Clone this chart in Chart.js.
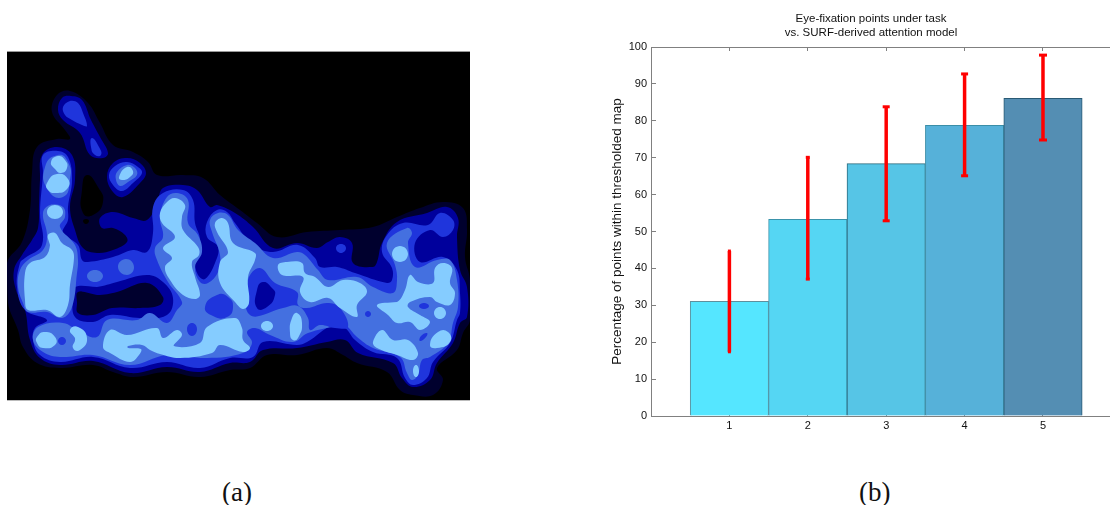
<!DOCTYPE html>
<html>
<head>
<meta charset="utf-8">
<title>Eye-fixation points</title>
<script src="https://cdn.jsdelivr.net/npm/chart.js@4"></script>
<style>
  html, body { margin: 0; padding: 0; background: #fff; }
  #page { position: relative; width: 1110px; height: 505px; overflow: hidden; }
  #mapBox { position: absolute; left: 7px; top: 52px; width: 463px; height: 348px; background: #000; box-shadow: 0 -1px 0 #999, 0 1px 0 #bbb; }
  #barBox { position: absolute; left: 600px; top: 0; width: 542px; height: 450px; }
  .cap { position: absolute; top: 476px; font: 27px "Liberation Serif", serif; color: #111; line-height: 32px; }
</style>
</head>
<body>
<div id="page">
  <div id="mapBox"><canvas id="mapChart"></canvas></div>
  <div id="barBox"><canvas id="barChart"></canvas></div>
  <div class="cap" style="left:222px">(a)</div>
  <div class="cap" style="left:859px">(b)</div>
</div>
<script>
// --- panel (b) values
const categories = [1, 2, 3, 4, 5];
const percentInside = [31.1, 53.3, 68.4, 78.8, 86.1];
const errorLow = [17.4, 37.1, 52.9, 65.1, 74.8];
const errorHigh = [44.7, 70.1, 83.8, 92.7, 97.8];
const yTicks = [0, 10, 20, 30, 40, 50, 60, 70, 80, 90, 100];

// --- panel (a) contours (x, y in image pixels)
const outerGlow = [[70,91],[88,103],[100,123],[113,145],[133,152],[148,162],[157,175],[183,175],[203,178],[220,195],[240,210],[257,223],[277,237],[307,232],[340,230],[373,227],[397,217],[420,208],[443,202],[463,208],[467,230],[465,257],[470,280],[470,320],[463,333],[457,350],[437,368],[443,380],[433,395],[413,395],[400,390],[387,372],[357,363],[343,355],[327,348],[297,355],[267,355],[250,368],[230,370],[200,377],[167,372],[133,377],[113,372],[93,365],[60,368],[37,363],[23,347],[18,330],[8,303],[7,263],[22,242],[30,210],[32,173],[37,147],[57,139],[70,139],[65,130],[52,112],[57,95]];
const blackGap = [[87,175],[98,187],[103,202],[93,215],[83,213],[82,190]];
const blackDot = [[86,219],[89,221],[86,224],[83,221]];

const navyTop = [[71,96],[82,100],[91,120],[100,137],[108,153],[103,158],[90,155],[80,133],[63,120],[58,110],[62,98]];
const navyThird = [[127,158],[140,163],[146,173],[140,183],[123,197],[113,192],[107,177],[113,163]];
const navyMain = [[57,147],[72,155],[75,180],[70,207],[75,230],[83,248],[97,253],[113,250],[127,242],[125,235],[113,228],[102,228],[100,218],[113,212],[133,218],[147,220],[157,203],[163,188],[183,185],[197,190],[210,207],[217,205],[235,213],[253,227],[273,248],[297,243],[317,248],[328,242],[340,237],[352,243],[353,263],[373,267],[377,262],[382,243],[397,222],[427,213],[447,207],[458,218],[457,237],[460,270],[467,287],[467,317],[460,323],[453,343],[437,363],[430,380],[413,387],[402,378],[393,363],[358,353],[345,340],[327,342],[297,348],[263,350],[250,362],[230,363],[200,372],[167,367],[130,373],[93,361],[60,365],[40,358],[30,340],[25,310],[16,290],[14,270],[22,255],[32,240],[38,228],[39,205],[40,180],[42,155]];

const blueTop = [[70,101],[78,103],[83,113],[87,126],[82,125],[72,120],[65,115],[63,107]];
const blueStrip = [[92,138],[99,147],[101,155],[95,155],[91,147]];
const blueThird = [[127,162],[138,167],[142,173],[133,183],[122,191],[113,185],[109,175],[115,166]];
const blueDot = [[341,244],[346,248],[341,253],[336,248]];
const blueMain = [[58,151],[68,157],[72,180],[68,207],[68,220],[63,233],[78,245],[82,260],[88,262],[113,257],[133,250],[147,252],[153,233],[153,207],[163,193],[183,190],[193,200],[195,223],[200,240],[195,260],[198,275],[205,279],[215,263],[218,247],[207,237],[207,222],[217,210],[227,212],[235,223],[253,245],[273,252],[298,245],[315,258],[320,267],[337,267],[355,273],[387,283],[392,280],[392,268],[382,252],[387,235],[403,223],[428,225],[440,213],[453,220],[453,230],[443,237],[430,230],[415,243],[420,262],[443,257],[457,270],[460,293],[460,313],[457,320],[450,343],[433,362],[427,378],[413,385],[405,378],[397,358],[373,352],[355,340],[345,328],[333,325],[307,342],[297,345],[263,342],[253,357],[230,358],[200,368],[167,362],[130,368],[93,357],[60,362],[40,355],[33,340],[35,328],[47,320],[25,310],[17,287],[20,263],[25,258],[42,245],[40,213],[43,173],[43,155]];

const navyRing = [[75,287],[97,287],[117,282],[147,275],[163,282],[173,298],[167,315],[140,318],[110,315],[93,322],[75,317],[73,297]];
const darkCore = [[78,292],[97,295],[117,292],[147,283],[163,297],[160,305],[140,308],[112,308],[93,315],[78,313],[77,303]];

const midThird = [[127,165],[135,168],[137,175],[128,182],[120,186],[116,180],[117,172]];
const midColumn = [[58,155],[68,162],[70,180],[63,197],[48,190],[45,167]];
const midLeft = [[50,205],[63,207],[65,217],[60,227],[75,245],[78,260],[77,273],[72,307],[62,318],[47,312],[28,312],[23,303],[18,287],[20,270],[28,260],[43,250],[47,235],[43,213]];
const midSpotA = [[87,276],[95,270],[103,276],[95,282]];
const midSpotB = [[118,267],[126,259],[134,267],[127,275]];
const midMain = [[33,340],[38,327],[63,323],[80,332],[97,337],[107,320],[137,320],[150,313],[167,323],[177,310],[182,302],[168,282],[157,260],[155,248],[163,237],[160,217],[167,197],[177,193],[188,200],[188,223],[198,235],[202,252],[195,267],[200,282],[208,283],[218,272],[220,255],[212,232],[210,220],[218,213],[228,215],[238,230],[255,243],[273,258],[297,252],[305,255],[318,270],[328,280],[357,277],[373,287],[393,293],[397,280],[395,265],[387,243],[407,228],[412,233],[408,243],[415,267],[437,260],[450,260],[457,280],[458,307],[453,323],[448,343],[430,357],[422,360],[418,375],[412,380],[407,373],[400,357],[373,348],[357,337],[345,325],[337,326],[308,333],[293,342],[270,335],[255,328],[247,332],[252,343],[243,353],[207,358],[167,355],[130,365],[93,355],[60,357],[43,352]];

const bluePool = [[250,315],[248,280],[260,268],[275,283],[297,292],[298,305],[307,308],[327,303],[340,308],[348,327],[335,328],[320,325],[310,330],[308,318],[298,306],[283,308]];
const blueOval = [[205,307],[217,295],[228,297],[233,307],[227,317],[213,316]];
const blueSpotA = [[192,323],[197,329],[192,336],[187,329]];
const blueSpotB = [[62,337],[66,341],[62,345],[58,341]];
const blueSpotC = [[424,303],[429,306],[424,309],[419,306]];
const blueSpotD = [[368,311],[371,314],[368,317],[365,314]];
const blueSpotE = [[427,333],[426,337],[420,341],[421,336]];
const navyPocket = [[263,282],[272,288],[275,295],[267,307],[257,308],[257,290]];

const lightA = [[58,156],[65,160],[67,168],[61,173],[55,169],[51,162]];
const lightB = [[47,183],[57,174],[68,179],[67,189],[56,193],[48,190]];
const lightC = [[47,212],[55,205],[63,212],[55,219]];
const lightThird = [[127,167],[133,171],[130,177],[122,180],[119,177]];
const lightLeft = [[48,235],[55,233],[62,243],[72,250],[74,258],[70,285],[68,305],[60,317],[47,310],[28,310],[25,300],[25,273],[30,263],[45,257],[50,245]];
const lightF = [[37,337],[45,332],[55,337],[55,345],[43,348],[37,343]];
const lightG = [[70,330],[78,327],[87,338],[80,350],[73,348],[75,338]];
const lightBand = [[103,347],[110,330],[127,335],[157,328],[163,338],[177,330],[182,335],[174,346],[200,343],[207,327],[235,318],[242,328],[243,340],[250,348],[243,352],[220,345],[212,353],[180,358],[160,354],[150,350],[142,345],[128,346],[128,348],[141,349],[139,355],[130,362],[110,353]];
const lightCol1 = [[175,198],[185,205],[182,217],[183,230],[198,247],[199,255],[192,262],[195,277],[200,295],[195,299],[183,295],[170,280],[165,267],[172,258],[163,248],[175,237],[162,223],[160,213],[167,202]];
const lightCol2 = [[222,218],[228,223],[233,243],[255,253],[255,260],[248,277],[249,303],[243,309],[235,302],[220,283],[220,262],[228,252],[217,232],[215,223]];
const lightK = [[261,326],[267,321],[273,326],[267,331]];
const lightL = [[290,333],[292,318],[297,313],[302,323],[298,338],[293,340]];
const lightM = [[278,265],[287,262],[302,263],[305,273],[315,277],[328,287],[343,280],[360,283],[367,292],[357,305],[357,317],[340,308],[328,298],[310,302],[300,292],[303,277],[282,275]];
const lightN = [[392,254],[400,246],[408,254],[400,262]];
const lightO = [[377,305],[397,302],[405,290],[410,275],[418,282],[433,283],[435,268],[443,263],[452,268],[450,283],[455,293],[450,305],[437,302],[430,297],[410,302],[408,307],[420,315],[430,322],[420,330],[410,322],[397,323],[388,315]];
const lightDot = [[434,313],[440,307],[446,313],[440,319]];
const lightP = [[373,342],[382,330],[393,340],[408,340],[418,353],[413,360],[397,355],[377,348]];
const lightQ = [[430,345],[438,332],[448,332],[450,342],[437,348]];
const lightR = [[413,371],[416,365],[419,371],[416,377]];

const DARK = "#00002e";
const NAVY = "#00009c";
const BLUE = "#1f35dc";
const MID = "#4470e0";
const LIGHT = "#85ccff";

// painter's order, first is at the back
const layers = [
    [outerGlow, DARK], [blackGap, "#000"], [blackDot, "#000"],
    [navyTop, NAVY], [navyThird, NAVY], [navyMain, NAVY],
    [blueTop, BLUE], [blueStrip, BLUE], [blueThird, BLUE], [blueDot, BLUE], [blueMain, BLUE],
    [navyRing, NAVY], [darkCore, DARK],
    [midThird, MID], [midColumn, MID], [midLeft, MID], [midSpotA, MID], [midSpotB, MID], [midMain, MID],
    [bluePool, BLUE], [blueOval, BLUE], [blueSpotA, BLUE], [blueSpotB, BLUE], [blueSpotC, BLUE], [blueSpotD, BLUE], [blueSpotE, BLUE],
    [navyPocket, NAVY],
    [lightA, LIGHT], [lightB, LIGHT], [lightC, LIGHT], [lightThird, LIGHT], [lightLeft, LIGHT], [lightF, LIGHT], [lightG, LIGHT],
    [lightBand, LIGHT], [lightCol1, LIGHT], [lightCol2, LIGHT], [lightK, LIGHT], [lightL, LIGHT], [lightM, LIGHT], [lightN, LIGHT],
    [lightO, LIGHT], [lightDot, LIGHT], [lightP, LIGHT], [lightQ, LIGHT], [lightR, LIGHT]
];

function contourDataset(layer, i) {
    const ring = layer[0];
    // wrap two vertices over the seam so the curve closes without a kink
    const wrapped = [ring[ring.length - 1]].concat(ring, [ring[0], ring[1]]);
    return {
        data: wrapped.map(p => ({ x: p[0], y: p[1] })),
        showLine: true,
        fill: "shape",
        backgroundColor: layer[1],
        borderWidth: 0,
        pointRadius: 0,
        tension: ring.length <= 6 ? 0.55 : 0.4,
        order: layers.length - i
    };
}

new Chart(document.getElementById("mapChart"), {
    type: "scatter",
    data: { datasets: layers.map(contourDataset) },
    options: {
        responsive: true,
        maintainAspectRatio: false,
        animation: false,
        events: [],
        layout: { padding: 0, autoPadding: false },
        plugins: { legend: { display: false }, tooltip: { enabled: false } },
        scales: {
            x: { display: false, min: 7, max: 470 },
            y: { display: false, min: 52, max: 400, reverse: true }
        }
    }
});

// --- panel (b)
const barColors = ["#55e6ff", "#55d6f3", "#56c5e6", "#56b1d9", "#548eb3"];
const barEdges = ["#5f8f9c", "#3a93ab", "#2c6a7c", "#3a8ea8", "#2a5a74"];
const capSizes = [1.5, 2, 3.5, 3.5, 4];

const errorSets = categories.map((c, i) => ({
    type: "scatter",
    data: [{ x: c, y: errorLow[i] }, { x: c, y: errorHigh[i] }],
    showLine: true,
    borderColor: "#ff0000",
    borderWidth: 3.5,
    pointStyle: "line",
    pointRadius: capSizes[i],
    pointBorderColor: "#ff0000",
    pointBorderWidth: 3,
    order: 0
}));

const axisGrey = "#808080";
const tickFont = { family: "'Liberation Sans', Arial, sans-serif", size: 11 };
// the axis runs on past the right edge of the picture
const xAxisEnd = 6.263;

function keepCategories(axis) {
    axis.ticks = categories.map(v => ({ value: v }));
}

new Chart(document.getElementById("barChart"), {
    type: "bar",
    data: {
        datasets: [{
            data: categories.map((c, i) => ({ x: c, y: percentInside[i] })),
            backgroundColor: barColors,
            borderColor: barEdges,
            borderWidth: 1,
            barPercentage: 1,
            categoryPercentage: 1,
            order: 1
        }].concat(errorSets)
    },
    options: {
        responsive: true,
        maintainAspectRatio: false,
        animation: false,
        events: [],
        layout: { padding: { left: 0, right: 0, top: 0, bottom: 14 }, autoPadding: false },
        plugins: {
            legend: { display: false },
            tooltip: { enabled: false },
            title: {
                display: true,
                text: ["Eye-fixation points under task", "vs. SURF-derived attention model"],
                color: "#111",
                font: { family: tickFont.family, size: 11.5, weight: "normal", lineHeight: 14 / 11.5 },
                padding: { top: 12, bottom: 7 }
            }
        },
        scales: {
            x: {
                type: "linear",
                position: "bottom",
                min: 0,
                max: xAxisEnd,
                offset: false,
                afterBuildTicks: keepCategories,
                afterFit: s => { s.height = 20; },
                grid: { offset: false, drawOnChartArea: false, tickLength: -4, color: axisGrey },
                border: { color: axisGrey, width: 1 },
                ticks: { color: "#111", font: tickFont, padding: 7, maxRotation: 0, autoSkip: false }
            },
            xTop: {
                type: "linear",
                position: "top",
                min: 0,
                max: xAxisEnd,
                offset: false,
                afterBuildTicks: keepCategories,
                afterFit: s => { s.height = 0; },
                grid: { offset: false, drawOnChartArea: false, tickLength: -4, color: axisGrey },
                border: { color: axisGrey, width: 1 },
                ticks: { display: false }
            },
            y: {
                min: 0,
                max: 100,
                afterBuildTicks: axis => { axis.ticks = yTicks.map(v => ({ value: v })); },
                afterFit: s => { s.width = 51; },
                grid: { drawOnChartArea: false, tickLength: -5, color: axisGrey },
                border: { color: axisGrey, width: 1 },
                ticks: { color: "#111", font: tickFont, padding: 9 },
                title: {
                    display: true,
                    text: "Percentage of points within thresholded map",
                    color: "#111",
                    font: { family: tickFont.family, size: 13.5 },
                    padding: { top: 9, bottom: 0 }
                }
            }
        }
    }
});
</script>
</body>
</html>
